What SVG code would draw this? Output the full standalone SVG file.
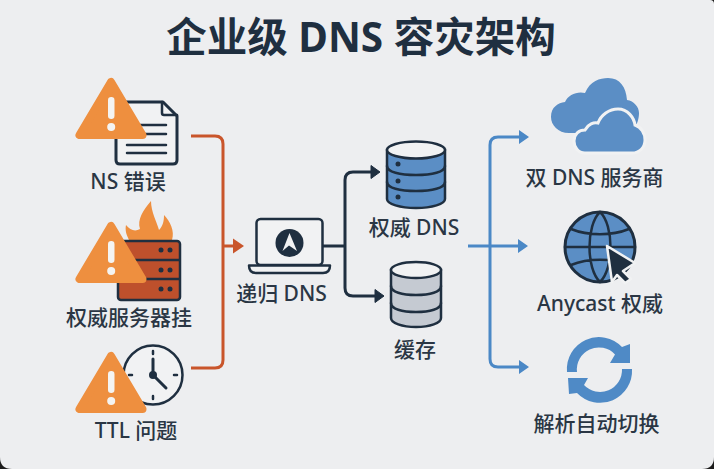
<svg xmlns="http://www.w3.org/2000/svg" width="714" height="469" viewBox="0 0 714 469">
<defs>
<style>
text{font-family:"Noto Sans","Noto Sans CJK SC",sans-serif;fill:#2a3644;text-anchor:middle;font-weight:500;font-size:21px}
.title{font-size:40.500px;font-weight:700;fill:#1f2f40}
.warn{fill:#ee8f3f;stroke:#ee8f3f;stroke-width:8;stroke-linejoin:round}
.bang{fill:#f4f4f2}
.ink{fill:none;stroke:#1f2f40;stroke-linecap:round;stroke-linejoin:round}
.o{fill:none;stroke:#c9552b;stroke-width:3}
.d{fill:none;stroke:#1f2f40;stroke-width:3}
.b{fill:none;stroke:#4b88c6;stroke-width:3}
</style>
<g id="warning"><path class="warn" d="M36 8 L4.500 61 H67.500 Z"/><rect class="bang" x="33" y="23" width="6.500" height="22" rx="3.200"/><circle class="bang" cx="36.200" cy="53" r="4"/></g>
</defs>
<rect width="714" height="469" fill="#1c1c1c"/>
<path d="M0 0H710Q714 0 714 4V457Q714 469 702 469H12Q0 469 0 457Z" fill="#edeef0"/>
<text class="title" x="361" y="52">企业级 DNS 容灾架构</text>
<g id="connectors">
<path class="o" d="M191 136H215Q223 136 223 144V360Q223 368 215 368H191M223 246H234"/>
<path d="M233 238.500L244 246 233 253.500Z" fill="#c9552b"/>
<path class="d" d="M323 246H345M372 172H353Q345 172 345 180V288Q345 296 353 296H376"/>
<path d="M371 165.500L380 172 371 178.500Z M375 289.500L384 296 375 302.500Z" fill="#1f2f40" stroke="#1f2f40"/>
<path class="b" d="M468 246H520M520 137H498Q490 137 490 145V359Q490 367 498 367H520"/>
<path d="M519 130L529 137 519 144Z M518 239L528 246 518 253Z M519 360L529 367 519 374Z" fill="#4b88c6"/>
</g>
<g id="ns-error">
<path d="M117 102H163L177 116V160Q177 164 173 164H120Q116 164 116 160V105Z" fill="#f1f2f3" stroke="#1f2f40" stroke-width="3" stroke-linejoin="round"/>
<path class="ink" stroke-width="2.500" d="M162 102V113Q162 115 164 115H177M127 125H166M127 134H166M127 145H166M127 153H166"/>
<use href="#warning" x="75" y="74"/>
<text x="128" y="189">NS 错误</text>
</g>
<g id="server-down">
<path d="M129 240C126 234 125 230 126 225C130 230 135 232 140 229C137 220 143 210 151 201C151 212 157 222 159 230C163 226 164 221 164 215C170 221 175 231 172 240Z" fill="#ee8f3f"/>
<rect x="118" y="241" width="62" height="59" rx="3" fill="#be502c" stroke="#1f2f40" stroke-width="2.500"/>
<path d="M118 260H180M118 279H180" stroke="#1f2f40" stroke-width="2.500"/>
<g fill="#1f2f40"><circle cx="161" cy="250" r="2.500"/><circle cx="170" cy="250" r="2.500"/><circle cx="161" cy="270" r="2.500"/><circle cx="170" cy="270" r="2.500"/><circle cx="161" cy="289" r="2.500"/><circle cx="170" cy="289" r="2.500"/></g>
<use href="#warning" x="75" y="218"/>
<text x="129" y="325">权威服务器挂</text>
</g>
<g id="ttl-issue">
<circle cx="153" cy="375" r="29.500" fill="#f1f2f3" stroke="#1f2f40" stroke-width="2.500"/>
<path class="ink" stroke-width="2.500" d="M153 351V354M153 396V399M129 375H132M174 375H177"/>
<path class="ink" stroke-width="3" d="M153 359V375L166 388"/>
<circle cx="153" cy="375" r="4" fill="#1f2f40"/>
<use href="#warning" x="75" y="348"/>
<text x="136" y="438">TTL 问题</text>
</g>
<g id="recursive-dns">
<rect x="256.500" y="219" width="66" height="46" rx="4" fill="#f1f2f3" stroke="#1f2f40" stroke-width="2.500"/>
<path d="M249 265.500H330Q330 273 323 273H256Q249 273 249 265.500Z" fill="#f1f2f3" stroke="#1f2f40" stroke-width="2.500" stroke-linejoin="round"/>
<circle cx="289.500" cy="243" r="14" fill="#1f2f40"/>
<path d="M289.500 233L297 251 289 245.500 282.500 251Z" fill="#f1f2f3"/>
<text x="281.500" y="301">递归 DNS</text>
</g>
<g id="auth-dns">
<path d="M387 150V199C387 204 400 208 416 208S445 204 445 199V150Z" fill="#5b8ec5" stroke="#1f2f40" stroke-width="2.500"/>
<ellipse cx="416" cy="150" rx="29" ry="8.500" fill="#f1f2f3" stroke="#1f2f40" stroke-width="2.500"/>
<path class="ink" stroke-width="2.500" d="M387 166C387 172 400 175 416 175S445 172 445 166M387 182C387 188 400 191 416 191S445 188 445 182"/>
<g fill="#1f2f40"><circle cx="398" cy="164" r="2.500"/><circle cx="398" cy="181" r="2.500"/><circle cx="398" cy="197" r="2.500"/></g>
<text x="414" y="235">权威 DNS</text>
</g>
<g id="cache">
<path d="M391 270V318C391 323 402 327 416 327S441 323 441 318V270Z" fill="#c5cad2" stroke="#1f2f40" stroke-width="2.500"/>
<ellipse cx="416" cy="270" rx="25" ry="8" fill="#f1f2f3" stroke="#1f2f40" stroke-width="2.500"/>
<path class="ink" stroke-width="2.500" d="M391 286C391 292 402 295 416 295S441 292 441 286M391 303C391 309 402 312 416 312S441 309 441 303"/>
<text x="415" y="357">缓存</text>
</g>
<g id="dual-dns">
<path d="M569 133C558 133 551 125 551 117C551 107 558 103 565 102C568 95 577 91 585 93C590 81 600 78 608 78C620 78 626 87 627 100C634 101 639 107 639 113C639 122 634 133 626 133Z" fill="#5b8ec5"/>
<path d="M585 153C578 153 574 147 574 141C574 134 579 130 585 130C588 124 594 122 598 123C601 115 609 109 618 109C628 109 634 118 635 125C641 127 645 133 645 140C645 148 639 153 632 153Z" fill="#5b8ec5" stroke="#f1f2f3" stroke-width="3"/>
<text x="594.500" y="185">双 DNS 服务商</text>
</g>
<g id="anycast">
<circle cx="600" cy="247" r="35" fill="#5b8ec5" stroke="#1f2f40" stroke-width="3"/>
<path class="ink" stroke-width="2.500" d="M600 212C586 225 586 269 600 282C614 269 614 225 600 212M565 247H635M571 229C588 236 612 236 629 229M571 265C588 258 612 258 629 265"/>
<path d="M607 246L635 263 623 271 631 279 625 283 617 275 612 282Z" fill="#1f2f40" stroke="#f1f2f3" stroke-width="2.500" stroke-linejoin="round"/>
<text x="600" y="311">Anycast 权威</text>
</g>
<g id="auto-failover">
<path d="M567 372A32 32 0 0 1 622 347L630 344V363H610L615 354.500A22 22 0 0 0 577 372Z" fill="#4f8ac6"/>
<path d="M632 369A32 32 0 0 1 577 393L569 394 568 378H588L584 385A22 22 0 0 0 622 369Z" fill="#4f8ac6"/>
<text x="596.500" y="431">解析自动切换</text>
</g>
</svg>
